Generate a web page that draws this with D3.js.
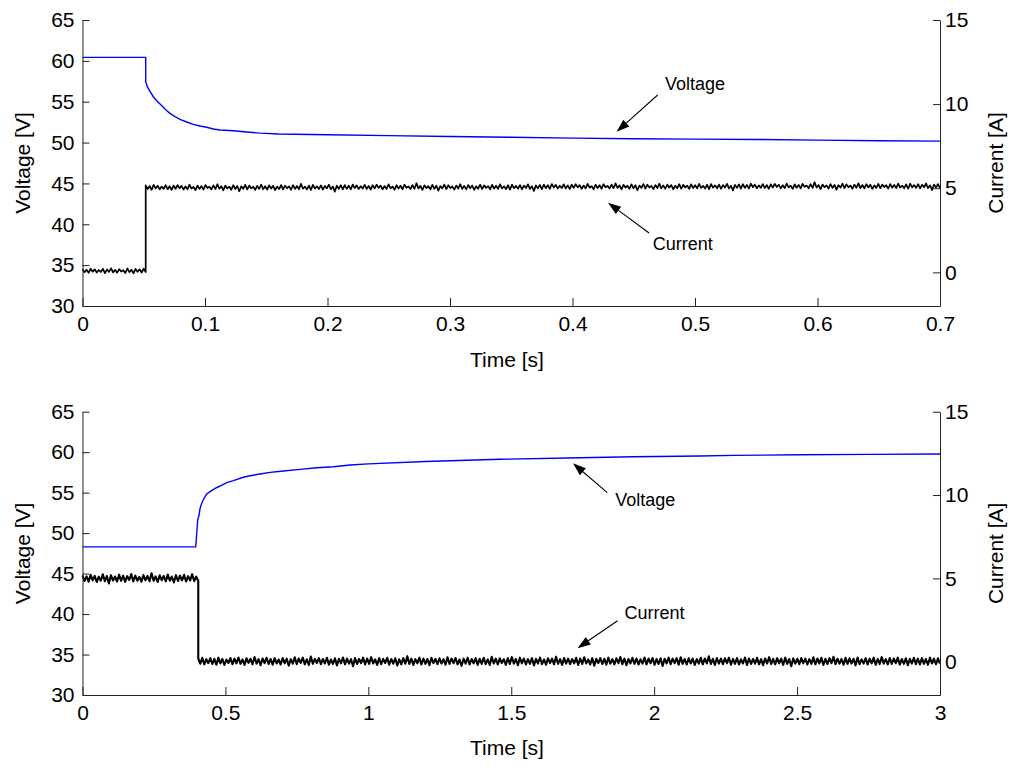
<!DOCTYPE html>
<html>
<head>
<meta charset="utf-8">
<script src="https://cdn.jsdelivr.net/npm/d3@7"></script>
<style>
  html, body { margin: 0; padding: 0; background: #fff; }
  text { font-family: "Liberation Sans", Arial, sans-serif; }
</style>
</head>
<body>
<div id="chart"></div>
<script>
// ---- Axis ticks ----
const voltageTicks = [30, 35, 40, 45, 50, 55, 60, 65];
const currentTicks = [0, 5, 10, 15];
const topTimeTicks = [0, 0.1, 0.2, 0.3, 0.4, 0.5, 0.6, 0.7];
const topTimeLabels = ["0", "0.1", "0.2", "0.3", "0.4", "0.5", "0.6", "0.7"];
const bottomTimeTicks = [0, 0.5, 1, 1.5, 2, 2.5, 3];
const bottomTimeLabels = ["0", "0.5", "1", "1.5", "2", "2.5", "3"];

// ---- Upper test: load step-on (0 - 0.7 s) ----
const topVoltageTime = [0, 0.0516, 0.0516, 0.0529, 0.0545, 0.0578, 0.0606, 0.0633, 0.0682, 0.0714,
  0.0755, 0.0796, 0.085, 0.0905, 0.0959, 0.1014, 0.1068, 0.1122, 0.1231, 0.134, 0.1449, 0.16,
  0.2, 0.25, 0.3, 0.35, 0.4, 0.45, 0.5, 0.55, 0.6, 0.65, 0.7];
const topVoltage = [60.43, 60.43, 57.45, 56.84, 56.43, 55.61, 55.12, 54.72, 53.98, 53.58,
  53.17, 52.85, 52.52, 52.23, 52.03, 51.87, 51.66, 51.54, 51.45, 51.3, 51.15, 51.05,
  50.95, 50.85, 50.75, 50.65, 50.55, 50.47, 50.42, 50.38, 50.3, 50.22, 50.18];
const topStepTime = 0.0516;
// current samples before the step (0 .. step)
const topCurrentBefore = [0.20, 0.01, 0.16, -0.03, 0.22, 0.04, 0.18, -0.01, 0.14, 0.02, 0.21, -0.05, 0.17, 0.03, 0.24, 0.00,
  0.15, -0.02, 0.19, 0.05, 0.13, -0.04, 0.23, 0.01, 0.16, -0.06, 0.20, 0.03, 0.18, -0.01, 0.22, 0.02];
// current samples after the step (step .. 0.7 s)
const topCurrentAfter = [
  5.17, 4.95, 5.13, 4.91, 5.20, 4.99, 5.15, 4.93, 5.10, 4.96, 5.18, 4.94, 5.12, 4.90, 5.16, 4.97, 5.19, 5.00, 5.14, 4.92,
  5.11, 4.94, 5.21, 4.98, 5.08, 4.89, 5.16, 4.96, 5.13, 4.92, 5.19, 5.01, 5.09, 4.93, 5.17, 4.95, 5.24, 4.97, 5.12, 4.88,
  5.15, 4.99, 5.10, 4.91, 5.18, 4.95, 5.13, 4.82, 5.11, 4.97, 5.20, 4.93, 5.16, 4.99, 5.09, 4.90, 5.14, 4.96, 5.22, 4.94,
  5.12, 4.92, 5.17, 4.98, 5.14, 4.89, 5.10, 4.95, 5.19, 4.93, 5.15, 5.00, 5.11, 4.91, 5.18, 4.96, 5.13, 4.94, 5.26, 4.97,
  5.09, 4.93, 5.16, 4.90, 5.20, 4.98, 5.12, 4.95, 5.17, 4.92, 5.14, 4.99, 5.21, 4.94, 5.10, 4.80, 5.15, 4.97, 5.18, 4.93,
  5.19, 4.97, 5.15, 4.93, 5.22, 5.01, 5.17, 4.95, 5.12, 4.98, 5.20, 4.96, 5.14, 4.92, 5.18, 4.99, 5.21, 5.02, 5.16, 4.94,
  5.13, 4.96, 5.23, 5.00, 5.10, 4.91, 5.18, 4.98, 5.15, 4.94, 5.21, 5.03, 5.11, 4.95, 5.19, 4.97, 5.30, 4.99, 5.14, 4.90,
  5.17, 5.01, 5.12, 4.93, 5.20, 4.97, 5.15, 4.86, 5.13, 4.99, 5.22, 4.95, 5.18, 5.01, 5.11, 4.92, 5.16, 4.98, 5.24, 4.96,
  5.14, 4.94, 5.19, 5.00, 5.16, 4.91, 5.12, 4.97, 5.21, 4.95, 5.17, 5.02, 5.13, 4.93, 5.20, 4.98, 5.15, 4.96, 5.23, 4.99,
  5.11, 4.95, 5.18, 4.92, 5.22, 5.00, 5.14, 4.97, 5.19, 4.94, 5.16, 5.01, 5.23, 4.96, 5.12, 4.84, 5.17, 4.99, 5.20, 4.95,
  5.22, 5.00, 5.18, 4.96, 5.25, 5.04, 5.20, 4.98, 5.15, 5.01, 5.23, 4.99, 5.17, 4.95, 5.21, 5.02, 5.24, 5.05, 5.19, 4.97,
  5.16, 4.99, 5.26, 5.03, 5.13, 4.94, 5.21, 5.01, 5.18, 4.97, 5.24, 5.06, 5.14, 4.98, 5.22, 5.00, 5.29, 5.02, 5.17, 4.93,
  5.20, 5.04, 5.15, 4.96, 5.23, 5.00, 5.18, 4.88, 5.16, 5.02, 5.25, 4.98, 5.21, 5.04, 5.14, 4.95, 5.19, 5.01, 5.27, 4.99,
  5.17, 4.97, 5.22, 5.03, 5.19, 4.94, 5.15, 5.00, 5.24, 4.98, 5.20, 5.05, 5.16, 4.96, 5.23, 5.01, 5.18, 4.99, 5.26, 5.02,
  5.14, 4.98, 5.21, 4.95, 5.25, 5.03, 5.17, 5.00, 5.22, 4.97, 5.19, 5.04, 5.26, 4.99, 5.15, 4.87, 5.20, 5.02, 5.23, 4.98,
  5.24, 5.02, 5.20, 4.98, 5.27, 5.06, 5.22, 5.00, 5.17, 5.03, 5.25, 5.01, 5.19, 4.97, 5.23, 5.04, 5.26, 5.07, 5.21, 4.99,
  5.18, 5.01, 5.28, 5.05, 5.15, 4.96, 5.23, 5.03, 5.20, 4.99, 5.26, 5.08, 5.16, 5.00, 5.24, 5.02, 5.36, 5.04, 5.19, 4.95,
  5.22, 5.06, 5.17, 4.98, 5.25, 5.02, 5.20, 4.91, 5.18, 5.04, 5.27, 5.00, 5.23, 5.06, 5.16, 4.97, 5.21, 5.03, 5.29, 5.01,
  5.19, 4.99, 5.24, 5.05, 5.21, 4.96, 5.17, 5.02, 5.26, 5.00, 5.22, 5.07, 5.18, 4.98, 5.25, 5.03, 5.20, 5.01, 5.28, 5.04,
  5.16, 5.00, 5.23, 4.97, 5.27, 5.05, 5.19, 5.02, 5.24, 4.99, 5.21, 5.06, 5.28, 5.01, 5.17, 4.89, 5.22, 5.04, 5.25, 5.00];

// ---- Lower test: load step-off (0 - 3 s) ----
const bottomVoltageTime = [0, 0.396, 0.3997, 0.403, 0.4078, 0.4113, 0.4171, 0.4253, 0.4346, 0.4463,
  0.4638, 0.4813, 0.5046, 0.528, 0.563, 0.5863, 0.6213, 0.6563, 0.703, 0.7613, 0.8197, 0.878,
  0.9363, 1.0, 1.2, 1.461, 1.695, 1.928, 2.161, 2.277, 2.511, 2.75, 3.0];
const bottomVoltage = [48.3, 48.3, 49.98, 51.62, 52.24, 53.06, 53.68, 54.30, 54.83, 55.12,
  55.53, 55.82, 56.23, 56.48, 56.9, 57.09, 57.30, 57.51, 57.67, 57.88, 58.08, 58.2,
  58.41, 58.55, 58.85, 59.12, 59.28, 59.44, 59.53, 59.6, 59.69, 59.73, 59.77];
const bottomStepTime = 0.405;
const bottomCurrentBefore = [
  5.18, 4.84, 5.12, 4.80, 5.21, 4.88, 5.15, 4.78, 5.10, 4.86, 5.24, 4.83, 5.14, 4.69, 5.19, 4.87, 5.11, 4.81, 5.22, 4.85,
  5.16, 4.79, 5.13, 4.90, 5.26, 4.82, 5.17, 4.86, 5.09, 4.80, 5.20, 4.88, 5.15, 4.83, 5.30, 4.85, 5.12, 4.78, 5.18, 4.89,
  5.14, 4.82, 5.23, 4.86, 5.11, 4.75, 5.19, 4.84, 5.16, 4.88, 5.21, 4.81, 5.13, 4.87, 5.25, 4.83, 5.10, 4.86];
const bottomCurrentAfter = [
  0.19, -0.12, 0.23, -0.16, 0.15, -0.09, 0.21, -0.14, 0.17, -0.18, 0.24, -0.11, 0.16, -0.20, 0.13, -0.08, 0.22, -0.15, 0.18, -0.10,
  0.25, -0.13, 0.14, -0.19, 0.20, -0.07, 0.17, -0.16, 0.28, -0.12, 0.15, -0.21, 0.19, -0.09, 0.23, -0.14, 0.16, -0.18, 0.21, -0.11,
  0.13, -0.17, 0.22, -0.10, 0.18, -0.24, 0.15, -0.12, 0.26, -0.15, 0.19, -0.08, 0.24, -0.16, 0.14, -0.20, 0.31, -0.13, 0.17, -0.09,
  0.21, -0.15, 0.16, -0.11, 0.23, -0.18, 0.13, -0.14, 0.20, -0.22, 0.17, -0.10, 0.25, -0.16, 0.18, -0.12, 0.15, -0.27, 0.22, -0.14,
  0.16, -0.09, 0.24, -0.17, 0.19, -0.13, 0.27, -0.11, 0.14, -0.19, 0.21, -0.15, 0.17, -0.08, 0.23, -0.18, 0.16, -0.12, 0.20, -0.23,
  0.14, -0.16, 0.22, -0.12, 0.33, -0.14, 0.18, -0.20, 0.15, -0.10, 0.24, -0.17, 0.19, -0.13, 0.16, -0.21, 0.23, -0.09, 0.17, -0.15,
  0.20, -0.11, 0.15, -0.18, 0.26, -0.14, 0.19, -0.09, 0.22, -0.16, 0.13, -0.25, 0.18, -0.12, 0.24, -0.17, 0.16, -0.10, 0.21, -0.19,
  0.17, -0.13, 0.23, -0.15, 0.14, -0.20, 0.29, -0.11, 0.18, -0.16, 0.20, -0.08, 0.15, -0.19, 0.22, -0.14, 0.27, -0.12, 0.16, -0.21,
  0.24, -0.10, 0.19, -0.17, 0.15, -0.13, 0.21, -0.22, 0.17, -0.11, 0.25, -0.15, 0.13, -0.18, 0.20, -0.09, 0.18, -0.16, 0.30, -0.13,
  0.15, -0.19, 0.22, -0.12, 0.18, -0.15, 0.16, -0.10, 0.23, -0.20, 0.19, -0.14, 0.26, -0.11, 0.14, -0.17, 0.21, -0.24, 0.17, -0.09,
  0.21, -0.14, 0.17, -0.18, 0.24, -0.12, 0.15, -0.16, 0.20, -0.09, 0.28, -0.15, 0.18, -0.21, 0.16, -0.11, 0.23, -0.13, 0.19, -0.17,
  0.14, -0.12, 0.25, -0.16, 0.19, -0.10, 0.22, -0.19, 0.16, -0.14, 0.20, -0.26, 0.17, -0.11, 0.24, -0.15, 0.18, -0.09, 0.21, -0.18,
  0.26, -0.13, 0.16, -0.17, 0.21, -0.11, 0.18, -0.20, 0.15, -0.12, 0.23, -0.16, 0.19, -0.10, 0.32, -0.14, 0.17, -0.19, 0.22, -0.12,
  0.18, -0.15, 0.20, -0.09, 0.24, -0.18, 0.16, -0.13, 0.22, -0.17, 0.14, -0.11, 0.25, -0.20, 0.19, -0.14, 0.16, -0.12, 0.23, -0.16,
  0.15, -0.21, 0.19, -0.11, 0.27, -0.14, 0.17, -0.16, 0.21, -0.10, 0.18, -0.19, 0.24, -0.13, 0.16, -0.28, 0.20, -0.12, 0.17, -0.15,
  0.22, -0.10, 0.18, -0.17, 0.15, -0.13, 0.26, -0.16, 0.19, -0.11, 0.23, -0.20, 0.17, -0.14, 0.21, -0.09, 0.29, -0.15, 0.18, -0.12,
  0.16, -0.18, 0.23, -0.13, 0.20, -0.11, 0.17, -0.22, 0.25, -0.15, 0.14, -0.12, 0.21, -0.17, 0.18, -0.10, 0.24, -0.19, 0.16, -0.14,
  0.27, -0.12, 0.15, -0.16, 0.22, -0.14, 0.19, -0.09, 0.24, -0.18, 0.16, -0.13, 0.20, -0.21, 0.17, -0.11, 0.23, -0.15, 0.18, -0.17,
  0.21, -0.13, 0.16, -0.19, 0.24, -0.11, 0.18, -0.15, 0.20, -0.12];

// ---- Callouts: label anchor and arrow tip/tail in data units ----
const topCallouts = [
  { text: "Voltage", axis: "v", tip: [0.436, 51.33], tail: [0.4695, 55.82], at: [0.4755, 57.17] },
  { text: "Current", axis: "i", tip: [0.429, 4.14], tail: [0.4625, 2.34], at: [0.4655, 1.68] }
];
const bottomCallouts = [
  { text: "Voltage", axis: "v", tip: [1.716, 58.62], tail: [1.836, 55.0], at: [1.864, 54.09] },
  { text: "Current", axis: "i", tip: [1.732, 0.81], tail: [1.872, 2.46], at: [1.896, 2.94] }
];

const W = 1011, H = 767;
const FONT = '"Liberation Sans", Arial, sans-serif';
const svg = d3.select("#chart").append("svg")
  .attr("width", W).attr("height", H)
  .style("background", "#fff");

// evenly spaced sample times for a recorded segment
function samples(values, t0, t1) {
  return values.map((v, k) => [t0 + (t1 - t0) * k / (values.length - 1), v]);
}

function styleAxis(g) {
  g.attr("font-size", 21).attr("font-family", FONT);
  g.selectAll(".domain").attr("stroke", "#222").attr("stroke-width", 1);
  g.selectAll(".tick line").attr("stroke", "#222");
  g.selectAll(".tick text").attr("fill", "#000");
}

function drawArrow(g, x1, y1, x2, y2) {
  const dx = x2 - x1, dy = y2 - y1, len = Math.hypot(dx, dy);
  const ux = dx / len, uy = dy / len;
  const hl = 13, hw = 4.5;
  const bx = x2 - ux * hl, by = y2 - uy * hl;
  g.append("line").attr("x1", x1).attr("y1", y1).attr("x2", bx).attr("y2", by)
    .attr("stroke", "#000").attr("stroke-width", 1.1);
  g.append("path")
    .attr("d", `M${x2},${y2}L${bx - uy * hw},${by + ux * hw}L${bx + uy * hw},${by - ux * hw}Z`)
    .attr("fill", "#000");
}

function drawPanel(p) {
  const x = d3.scaleLinear().domain(p.xDomain).range([82.5, 940]);
  const yV = d3.scaleLinear().domain([30, 65]).range([p.bottom, p.top]);
  const yI = d3.scaleLinear().domain([-2, 15]).range([p.bottom, p.top]);
  const g = svg.append("g");

  // current trace
  const iData = samples(p.iBefore, p.xDomain[0], p.step)
    .concat(samples(p.iAfter, p.step, p.xDomain[1]));
  g.append("path").datum(iData)
    .attr("d", d3.line().x(d => x(d[0])).y(d => yI(d[1])))
    .attr("fill", "none").attr("stroke", "#000").attr("stroke-width", p.currentWidth)
    .attr("stroke-linejoin", "round");

  // voltage trace
  const vData = p.vT.map((t, k) => [t, p.vV[k]]);
  g.append("path").datum(vData)
    .attr("d", d3.line().x(d => x(d[0])).y(d => yV(d[1])))
    .attr("fill", "none").attr("stroke", "#0000ff").attr("stroke-width", 1.4);

  // axes (ticks point inward)
  g.append("g").attr("transform", `translate(0,${p.bottom})`)
    .call(d3.axisBottom(x).tickValues(p.xTicks).tickFormat((d, k) => p.xLabels[k])
      .tickSizeInner(-8).tickSizeOuter(0).tickPadding(10))
    .call(styleAxis);
  g.append("g").attr("transform", "translate(82.5,0)")
    .call(d3.axisLeft(yV).tickValues(voltageTicks).tickFormat(d3.format("d"))
      .tickSizeInner(-7).tickSizeOuter(0).tickPadding(8))
    .call(styleAxis);
  g.append("g").attr("transform", "translate(940,0)")
    .call(d3.axisRight(yI).tickValues(currentTicks).tickFormat(d3.format("d"))
      .tickSizeInner(-7).tickSizeOuter(0).tickPadding(5))
    .call(styleAxis);

  // axis titles
  const midY = (p.top + p.bottom) / 2;
  g.append("text").attr("transform", `translate(23,${midY}) rotate(-90)`)
    .attr("text-anchor", "middle").attr("dy", "0.35em")
    .attr("font-size", 21).attr("font-family", FONT).text("Voltage [V]");
  g.append("text").attr("transform", `translate(996,${midY}) rotate(-90)`)
    .attr("text-anchor", "middle").attr("dy", "0.35em")
    .attr("font-size", 21).attr("font-family", FONT).text("Current [A]");
  g.append("text").attr("x", 507).attr("y", p.titleY)
    .attr("text-anchor", "middle").attr("dy", "0.35em")
    .attr("font-size", 21).attr("font-family", FONT).text("Time [s]");

  // callouts
  p.callouts.forEach(c => {
    const y = c.axis === "v" ? yV : yI;
    drawArrow(g, x(c.tail[0]), y(c.tail[1]), x(c.tip[0]), y(c.tip[1]));
    g.append("text").attr("x", x(c.at[0])).attr("y", y(c.at[1]))
      .attr("dy", "0.35em").attr("font-size", 18).attr("font-family", FONT)
      .text(c.text);
  });
}

drawPanel({
  xDomain: [0, 0.7], xTicks: topTimeTicks, xLabels: topTimeLabels,
  top: 20, bottom: 306, titleY: 360, currentWidth: 1.7,
  vT: topVoltageTime, vV: topVoltage,
  step: topStepTime, iBefore: topCurrentBefore, iAfter: topCurrentAfter,
  callouts: topCallouts
});
drawPanel({
  xDomain: [0, 3], xTicks: bottomTimeTicks, xLabels: bottomTimeLabels,
  top: 411.7, bottom: 695, titleY: 748, currentWidth: 2.1,
  vT: bottomVoltageTime, vV: bottomVoltage,
  step: bottomStepTime, iBefore: bottomCurrentBefore, iAfter: bottomCurrentAfter,
  callouts: bottomCallouts
});
</script>
</body>
</html>
